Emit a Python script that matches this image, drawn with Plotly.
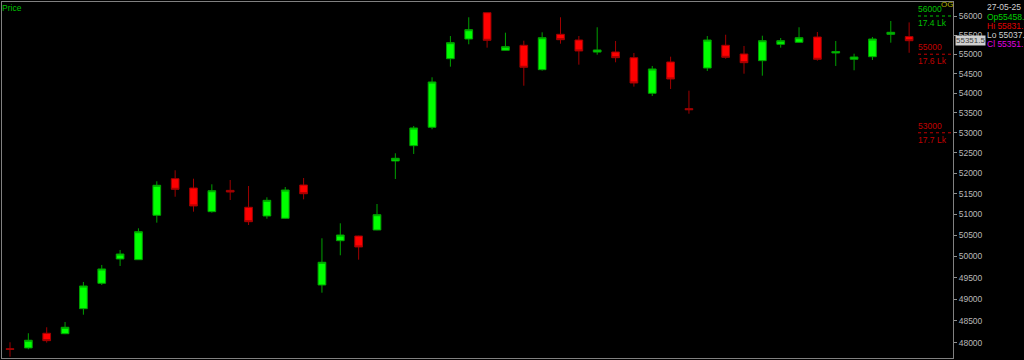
import math
import plotly.graph_objects as go

# ---- data ----
dates = [
    "11-03-25", "12-03-25", "13-03-25", "17-03-25", "18-03-25", "19-03-25", "20-03-25",
    "21-03-25", "24-03-25", "25-03-25", "26-03-25", "27-03-25", "28-03-25",
    "01-04-25", "02-04-25", "03-04-25", "04-04-25", "07-04-25", "08-04-25", "09-04-25",
    "11-04-25", "15-04-25", "16-04-25", "17-04-25", "21-04-25", "22-04-25", "23-04-25",
    "24-04-25", "25-04-25", "28-04-25", "29-04-25", "30-04-25",
    "02-05-25", "05-05-25", "06-05-25", "07-05-25", "08-05-25", "09-05-25", "12-05-25",
    "13-05-25", "14-05-25", "15-05-25", "16-05-25", "19-05-25", "20-05-25", "21-05-25",
    "22-05-25", "23-05-25", "26-05-25", "27-05-25",
]
opens = [
    47870, 47887, 48220, 48210, 48782, 49369, 49939, 49922, 50978, 51865,
    51638, 51065, 51580, 51171, 50961, 50906, 51711, 49330, 50371, 50482,
    50626, 52300, 52679, 53138, 54884, 55396, 56087, 55102, 55232, 54601,
    55519, 55370, 55056, 55058, 54910, 53996, 54799, 53606, 54644, 55232,
    55006, 54833, 55258, 55310, 55448, 55032, 54869, 54936, 55519, 55458.85,
]
highs = [
    48016, 48220, 48356, 48477, 49400, 49798, 50151, 50666, 51802, 52071,
    51865, 51728, 51833, 51687, 51412, 51662, 51882, 50428, 50786, 50490,
    51250, 52490, 53170, 54405, 55474, 55966, 56090, 55561, 55352, 55571,
    55966, 55474, 55703, 55344, 55032, 54696, 54936, 54062, 55474, 55508,
    55214, 55482, 55422, 55703, 55579, 55344, 55014, 55448, 55868, 55831.20,
]
lows = [
    47690, 47857, 48007, 48200, 48644, 49330, 49774, 49915, 50801, 51426,
    51065, 51041, 51347, 50745, 50896, 50896, 51363, 49151, 50026, 49922,
    50620, 51858, 52473, 53088, 54678, 55258, 55170, 55100, 54190, 54575,
    55274, 54730, 54988, 54791, 54165, 53927, 54106, 53479, 54567, 54884,
    54497, 54446, 55170, 55300, 54833, 54696, 54585, 54850, 55300, 55037.55,
]
closes = [
    47855, 48061, 48052, 48356, 49307, 49704, 50056, 50585, 51704, 51606,
    51202, 51572, 51541, 50824, 51339, 51589, 51499, 49861, 50506, 50222,
    50992, 52366, 53120, 54285, 55300, 55640, 55362, 55196, 54662, 55430,
    55378, 55084, 55110, 54910, 54259, 54619, 54361, 53581, 55370, 54920,
    54781, 55352, 55352, 55430, 54869, 55068, 54928, 55396, 55571, 55351.50,
]

tick_values = [48000, 48500, 49000, 49500, 50000, 50500, 51000, 51500, 52000,
               52500, 53000, 53500, 54000, 54500, 55000, 55500, 56000]
tick_labels = [str(v) for v in tick_values]

levels = [56000, 55000, 53000]
level_volumes = ["17.4 Lk", "17.6 Lk", "17.7 Lk"]
level_colors = ["#00c000", "#c00000", "#c00000"]

info_date = "27-05-25"
info_lines = [("Op", "55458."), ("Hi ", "55831."), ("Lo ", "55037."), ("Cl ", "55351.")]
info_colors = ["#00d000", "#e00000", "#d0d0d0", "#e000e0"]
last_close_label = "55351.5"

# ---- figure ----
FONT = "Liberation Sans"
fig = go.Figure()
fig.add_trace(go.Candlestick(
    x=dates, open=opens, high=highs, low=lows, close=closes,
    increasing=dict(fillcolor="#00ff00", line=dict(color="#00a000", width=1)),
    decreasing=dict(fillcolor="#ff0000", line=dict(color="#a00000", width=1)),
    whiskerwidth=0, hoverinfo="skip", showlegend=False,
))

W, H = 1024, 360
ml, mr, mt, mb = 2, 71, 2, 2
plot_w = W - ml - mr
plot_h = H - mt - mb

def px_x(px):
    return (px - ml) / plot_w

def px_y(py):
    return (H - mb - py) / plot_h

annotations = []
shapes = []
for lvl, vol, col in zip(levels, level_volumes, level_colors):
    shapes.append(dict(type="line", xref="paper", yref="y", x0=px_x(918), x1=1,
                       y0=lvl, y1=lvl, line=dict(color=col, width=1, dash="dot")))
    annotations.append(dict(text=str(lvl), xref="paper", yref="y", x=px_x(917),
                            y=math.log10(lvl), xanchor="left", yanchor="bottom",
                            showarrow=False, font=dict(family=FONT, size=8.5, color=col),
                            borderpad=0, yshift=1))
    annotations.append(dict(text=vol, xref="paper", yref="y", x=px_x(917),
                            y=math.log10(lvl), xanchor="left", yanchor="top",
                            showarrow=False, font=dict(family=FONT, size=8.5, color=col),
                            borderpad=0, yshift=-1))

annotations.append(dict(text="Price", xref="paper", yref="paper", x=px_x(1), y=px_y(2),
                        xanchor="left", yanchor="top", showarrow=False, borderpad=0,
                        font=dict(family=FONT, size=8.5, color="#00c000")))
annotations.append(dict(text="OG", xref="paper", yref="paper", x=px_x(947), y=px_y(4),
                        xanchor="center", yanchor="middle", showarrow=False, borderpad=0,
                        font=dict(family=FONT, size=8, color="#b4b400")))

annotations.append(dict(text=last_close_label, xref="paper", yref="y", x=px_x(955),
                        y=math.log10(closes[-1]), xanchor="left", yanchor="middle",
                        showarrow=False, bgcolor="#d0d0d0", borderpad=0,
                        font=dict(family=FONT, size=8, color="#404040")))

info_y = [17, 26, 35, 44]
annotations.append(dict(text=info_date, xref="paper", yref="paper", x=px_x(986), y=px_y(7),
                        xanchor="left", yanchor="middle", showarrow=False, borderpad=0,
                        font=dict(family=FONT, size=8.5, color="#d0d0d0")))
for (lab, val), col, yy in zip(info_lines, info_colors, info_y):
    annotations.append(dict(text=lab + val, xref="paper", yref="paper", x=px_x(986),
                            y=px_y(yy), xanchor="left", yanchor="middle", showarrow=False,
                            borderpad=0, font=dict(family=FONT, size=8.5, color=col)))

ymax_px_log = math.log10(56000) + (16 - mt) / (2121 * math.log(10))
ymin_px_log = ymax_px_log - plot_h / (2121 * math.log(10))

fig.update_layout(
    width=W, height=H,
    margin=dict(l=ml, r=mr, t=mt, b=mb, pad=0),
    paper_bgcolor="#000000", plot_bgcolor="#000000",
    boxgap=0.4,
    showlegend=False, hovermode=False,
    font=dict(family=FONT, size=8.5, color="#c0c0c0"),
    xaxis=dict(type="category", range=[-0.436, 51.39], showticklabels=False,
               showgrid=False, zeroline=False, showline=True, mirror=True,
               linecolor="#808080", linewidth=1, ticks="",
               rangeslider=dict(visible=False), fixedrange=True),
    yaxis=dict(type="log", range=[ymin_px_log, ymax_px_log], side="right",
               tickvals=tick_values, ticktext=tick_labels, ticks="outside",
               ticklen=3, tickcolor="#909090", tickwidth=1,
               tickfont=dict(family=FONT, size=8.5, color="#b8b8b8"),
               showgrid=False, zeroline=False, showline=True, mirror=True,
               linecolor="#808080", linewidth=1, fixedrange=True),
    shapes=shapes, annotations=annotations,
)

fig.write_html("out.html")
